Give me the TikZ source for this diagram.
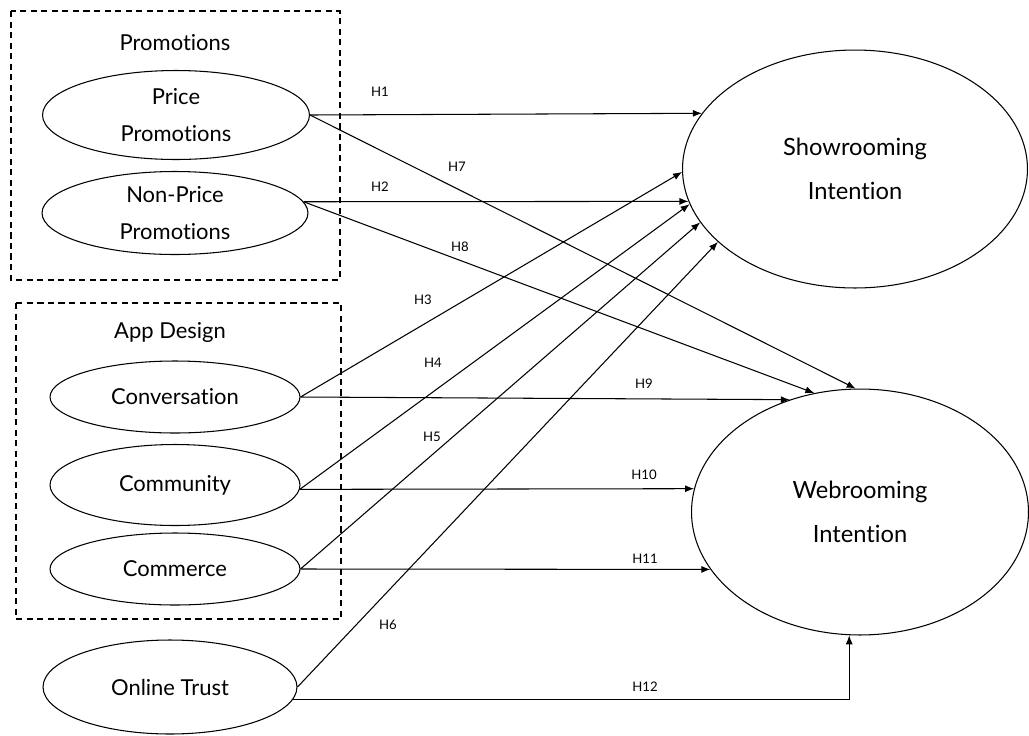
\documentclass[tikz,border=0pt]{standalone}
\usepackage{fontspec}
\setmainfont{Lato}[Ligatures={NoCommon,NoRequired}]
\usetikzlibrary{arrows.meta,shapes.geometric}
\begin{document}
\begin{tikzpicture}[x=0.02cm, y=-0.02cm]
\tikzstyle{construct} = [draw, ellipse, inner sep=0pt, align=center, line width=0.6pt, font=\fontsize{12.5}{21.5}\selectfont];
\tikzstyle{outcome} = [construct, font=\fontsize{13.5}{25}\selectfont];
\tikzstyle{heading} = [font=\fontsize{12.5}{15}\selectfont];
\tikzstyle{group} = [draw, line width=0.6pt, dash pattern=on 3.5pt off 2.5pt];
\tikzstyle{hyp} = [draw, line width=0.6pt, -{Latex[length=1.8mm,width=1.4mm]}];
\tikzstyle{hlabel} = [font=\fontsize{7.5}{9}\selectfont];
\useasboundingbox (0,0) rectangle (1029,735);
\draw[group] (11,11) rectangle (340,280);
\draw[group] (16,303) rectangle (341,619);
\node[heading] (promo) at (175,43) {Promotions};
\node[heading] (app) at (170,332) {App Design};
\node[construct, minimum width=5.34cm, minimum height=1.78cm] (price) at (176,115) {Price\\Promotions};
\node[construct, minimum width=5.32cm, minimum height=1.66cm] (nonprice) at (175,213) {Non-Price\\Promotions};
\node[construct, minimum width=5cm, minimum height=1.44cm] (conv) at (175,397) {Conversation};
\node[construct, minimum width=5cm, minimum height=1.62cm] (comm) at (175,485) {Community};
\node[construct, minimum width=5cm, minimum height=1.44cm] (comr) at (175,569) {Commerce};
\node[construct, minimum width=5.08cm, minimum height=1.88cm] (trust) at (170,687) {Online Trust};
\node[outcome, minimum width=6.9cm, minimum height=4.76cm] (show) at (855,169) {Showrooming\\Intention};
\node[outcome, minimum width=6.74cm, minimum height=4.92cm] (web) at (860,512) {Webrooming\\Intention};
\draw[hyp] (price.east) -- (show.160);
\draw[hyp] (nonprice.5) -- (show.191);
\draw[hyp] (conv.east) -- (show.181);
\draw[hyp] (comm.358) -- (show.192);
\draw[hyp] (comr.east) -- (show.199);
\draw[hyp] (trust.east) -- (show.208);
\draw[hyp] (price.east) -- (web.92);
\draw[hyp] (nonprice.5) -- (web.111);
\draw[hyp] (conv.east) -- (web.122);
\draw[hyp] (comm.358) -- (web.172);
\draw[hyp] (comr.east) -- (web.201);
\draw[hyp] (trust.354) -| (web.265);
\node[hlabel] (h1) at (380,92) {H1};
\node[hlabel] (h2) at (380,187) {H2};
\node[hlabel] (h3) at (423,300) {H3};
\node[hlabel] (h4) at (433,363) {H4};
\node[hlabel] (h5) at (432,437) {H5};
\node[hlabel] (h6) at (388,625) {H6};
\node[hlabel] (h7) at (457,167) {H7};
\node[hlabel] (h8) at (460,247) {H8};
\node[hlabel] (h9) at (644,384) {H9};
\node[hlabel] (h10) at (644,475) {H10};
\node[hlabel] (h11) at (645,559) {H11};
\node[hlabel] (h12) at (645,687) {H12};
\end{tikzpicture}
\end{document}
